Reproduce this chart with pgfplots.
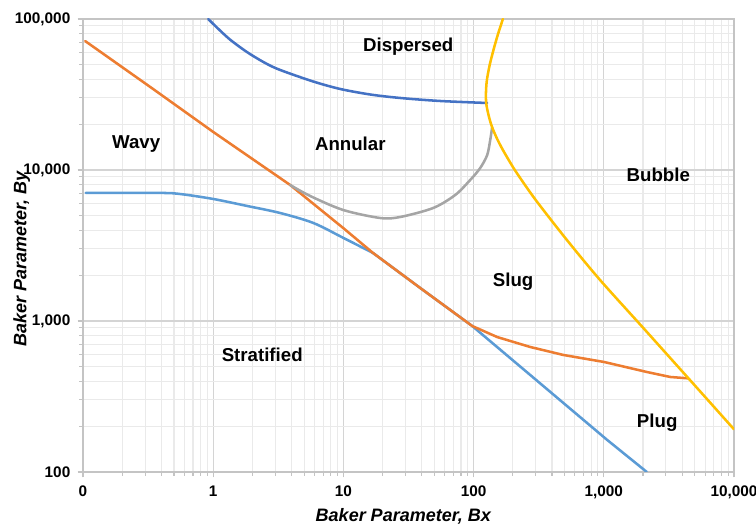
\documentclass[border=0pt]{standalone}
\usepackage{pgfplots}
\pgfplotsset{compat=1.18}
\usepackage{fontspec}
\setmainfont{Liberation Sans}

\definecolor{cOrange}{HTML}{ED7D31}
\definecolor{cDarkBlue}{HTML}{4472C4}
\definecolor{cLightBlue}{HTML}{5B9BD5}
\definecolor{cGray}{HTML}{A5A5A5}
\definecolor{cGold}{HTML}{FFC000}
\definecolor{gridMajor}{HTML}{D4D4D4}
\definecolor{gridMinor}{HTML}{EAEAEA}
\definecolor{axisGray}{HTML}{C4C4C4}

\begin{document}
\begin{tikzpicture}[x=1pt,y=1pt]
\useasboundingbox (-62.25,-39.75) rectangle (504.75,354);
\begin{axis}[
  at={(0,0)}, anchor=south west,
  scale only axis,
  width=488.25pt, height=339.75pt,
  xmode=log, ymode=log,
  xmin=0.1, xmax=10000, ymin=100, ymax=100000,
  xtick={0.1,1,10,100,1000,10000},
  xticklabels={0,1,10,100,{1,000},{10,000}},
  ytick={100,1000,10000,100000},
  yticklabels={100,{1,000},{10,000},{100,000}},
  /pgf/number format/assume math mode=true,
  ticklabel style={font=\bfseries\fontsize{11.5}{13}\selectfont, text=black},
  xticklabel style={yshift=-3pt},
  yticklabel style={xshift=-2pt},
  grid=both,
  major grid style={gridMajor, line width=0.8pt},
  minor grid style={gridMinor, line width=0.8pt},
  axis line style={axisGray, line width=0.8pt},
  tick align=outside,
  xtick pos=bottom, ytick pos=left,
  major tick length=4pt, minor tick length=3pt,
  tick style={axisGray, line width=0.8pt},
  xlabel={Baker Parameter, Bx},
  ylabel={Baker Parameter, By},
  label style={font=\bfseries\itshape\fontsize{13.5}{16}\selectfont},
  xlabel style={at={(axis description cs:0.492,-0.099)}, anchor=center},
  ylabel style={at={(axis description cs:-0.094,0.47)}, anchor=center},
  every axis plot/.append style={line width=1.9pt, line join=round, line cap=round},
  clip=true,
]

% dispersed / annular boundary
\addplot[cDarkBlue, smooth, tension=0.5] coordinates {
  (0.915,100000) (1.304,74800) (1.815,60460) (2.508,51120) (3.271,45950)
  (5.861,38560) (9.45,34400) (16.07,31620) (27.31,29990) (55.41,28640)
  (127.2,27780)
};

% stratified boundary (lower part runs under the orange line)
\addplot[cLightBlue, smooth, tension=0.5] coordinates {
  (0.105,7050) (0.39,7050) (0.56,6930) (1,6430) (1.82,5780) (3.27,5190)
  (5.87,4460) (10,3550) (16.9,2820)
};
\addplot[cLightBlue] coordinates {
  (16.9,2820) (38.9,1655) (97.5,927) (1062,163) (2140,100)
};

% wavy / annular / slug boundary, then slug / plug boundary
\addplot[cOrange] coordinates {
  (0.104,71400) (0.328,35500) (1,17870) (3.90,7960) (9.96,4130)
  (16.9,2820) (38.9,1655) (97.5,927)
  (151.8,783) (272,673) (488,596) (1007,535) (2153,459) (3236,426) (4448,417)
};

% annular / slug boundary
\addplot[cGray, smooth, tension=0.5] coordinates {
  (3.903,7958) (5.559,6727) (9.965,5434) (19.17,4810) (27.31,4884)
  (48.95,5602) (72.23,6830) (94.17,8585) (112.4,10310) (127.2,12570)
  (134.2,15800) (138.9,19270)
};

% bubble boundary
\addplot[cGold, smooth, tension=0.5] coordinates {
  (167.9,100000) (153.2,78350) (142.1,62340) (132.9,49600) (126.5,39450)
  (124.5,32860) (125.0,27650) (130.2,23130) (138.2,19360) (151.8,16040)
  (167.9,13570) (190.0,11300) (215.4,9508) (299.9,6330) (520.8,3439)
  (936.7,1868) (2044,885) (4448,419) (10000,191.8)
};

% regime names
\begin{scope}[every node/.style={font=\bfseries\fontsize{14}{16}\selectfont}]
  \node at (axis cs:31.5,65300) {Dispersed};
  \node at (axis cs:0.256,14900) {Wavy};
  \node at (axis cs:11.3,14900) {Annular};
  \node at (axis cs:2620,9270) {Bubble};
  \node at (axis cs:201,1810) {Slug};
  \node at (axis cs:2.38,596) {Stratified};
  \node at (axis cs:2570,211) {Plug};
\end{scope}
\end{axis}
\end{tikzpicture}
\end{document}
